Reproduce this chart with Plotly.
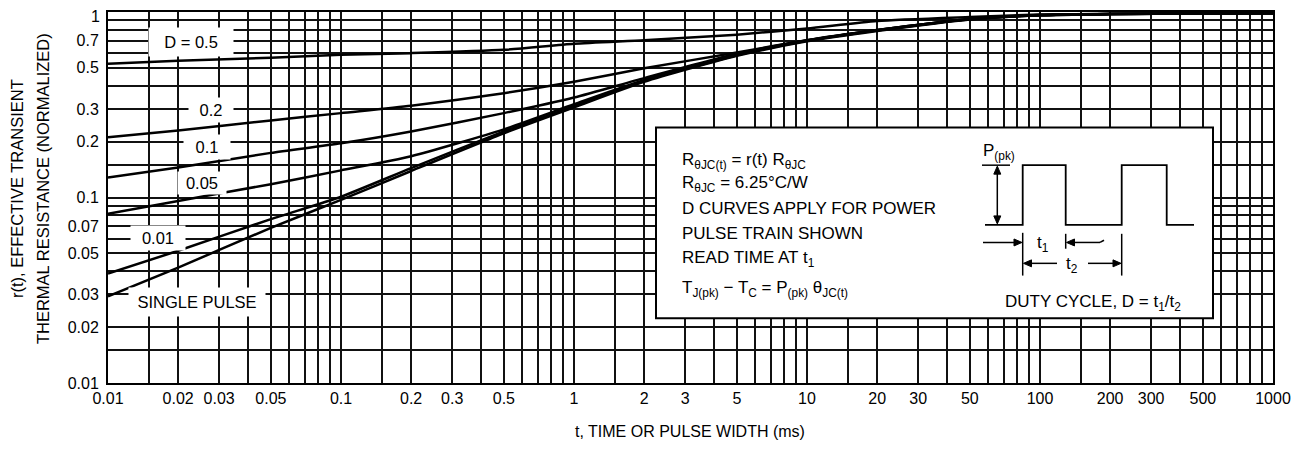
import numpy as np
import plotly.graph_objects as go

# ---------------- data ----------------
t_ms = [0.01, 0.02, 0.05, 0.1, 0.2, 0.5, 1, 2, 5, 10, 20, 50, 100, 200, 500, 1000]

r_d050 = [0.526, 0.546, 0.567, 0.588, 0.600, 0.625, 0.675, 0.705, 0.755, 0.815, 0.895, 0.940, 0.968, 0.977, 0.983, 0.987]
r_d020 = [0.211, 0.230, 0.260, 0.285, 0.312, 0.365, 0.421, 0.497, 0.605, 0.705, 0.800, 0.918, 0.962, 0.975, 0.982, 0.985]
r_d010 = [0.128, 0.145, 0.174, 0.196, 0.227, 0.285, 0.346, 0.440, 0.595, 0.705, 0.800, 0.918, 0.962, 0.975, 0.982, 0.985]
r_d005 = [0.0816, 0.0958, 0.118, 0.140, 0.167, 0.233, 0.318, 0.430, 0.590, 0.702, 0.797, 0.916, 0.961, 0.975, 0.982, 0.985]
r_d001 = [0.0389, 0.0516, 0.0765, 0.101, 0.144, 0.227, 0.311, 0.425, 0.585, 0.700, 0.795, 0.914, 0.960, 0.974, 0.982, 0.985]
r_single = [0.0293, 0.0419, 0.0686, 0.097, 0.139, 0.222, 0.306, 0.420, 0.580, 0.695, 0.790, 0.912, 0.960, 0.974, 0.982, 0.985]

series = [r_d050, r_d020, r_d010, r_d005, r_d001, r_single]

x_labels = [0.01, 0.02, 0.03, 0.05, 0.1, 0.2, 0.3, 0.5, 1, 2, 3, 5, 10, 20, 30, 50, 100, 200, 300, 500, 1000]
x_label_text = ["0.01", "0.02", "0.03", "0.05", "0.1", "0.2", "0.3", "0.5", "1", "2", "3", "5",
                "10", "20", "30", "50", "100", "200", "300", "500", "1000"]
y_labels = [0.01, 0.02, 0.03, 0.05, 0.07, 0.1, 0.2, 0.3, 0.5, 0.7, 1]
y_label_text = ["0.01", "0.02", "0.03", "0.05", "0.07", "0.1", "0.2", "0.3", "0.5", "0.7", "1"]
grid_mult = [1, 1.5, 2, 3, 4, 5, 6, 7, 8, 9]

curve_labels = ["D = 0.5", "0.2", "0.1", "0.05", "0.01", "SINGLE PULSE"]

# ---------------- layout geometry ----------------
# page body has an 8 px margin: the figure is sized/offset to compensate
OFF = 8
W, H = 1306 - 2 * OFF, 449 - 2 * OFF
L, R, T, B = 108, 1273, 10, 383          # plot area in page pixels
FONT = "Liberation Sans, Arial, Helvetica, sans-serif"


def P(px, py):
    return (px - L) / (R - L), (B - py) / (B - T)


x_grid = [d * m for d in [0.01, 0.1, 1, 10, 100] for m in grid_mult] + [1000]
x_minor = [v for v in x_grid if not any(abs(np.log10(v) - np.log10(l)) < 1e-6 for l in x_labels)]
y_grid = [d * m for d in [0.01, 0.1] for m in grid_mult] + [1]
y_minor = [v for v in y_grid if not any(abs(np.log10(v) - np.log10(l)) < 1e-6 for l in y_labels)]

# the top label "1" would be clipped at the page edge: draw it as an annotation instead
y_tick_vals = y_labels[:-1]
y_tick_text = y_label_text[:-1]

fig = go.Figure()
for s in series:
    fig.add_trace(go.Scatter(x=t_ms, y=s, mode="lines",
                             line=dict(color="black", width=2.5, shape="spline", smoothing=0.6),
                             showlegend=False, hoverinfo="skip"))

grid_col = "#111111"
fig.update_xaxes(type="log", range=[-2, 3], tickvals=x_labels, ticktext=x_label_text,
                 showgrid=True, gridcolor=grid_col, gridwidth=1.7,
                 minor=dict(tickvals=x_minor, showgrid=True, gridcolor=grid_col, gridwidth=1.7, ticks=""),
                 showline=True, linecolor="black", linewidth=2, mirror=True,
                 ticks="", ticklabelstandoff=0, zeroline=False,
                 tickfont=dict(family=FONT, size=16, color="black"))
fig.update_yaxes(type="log", range=[-2, 0], tickvals=y_tick_vals, ticktext=y_tick_text,
                 showgrid=True, gridcolor=grid_col, gridwidth=1.7,
                 minor=dict(tickvals=y_minor + [1], showgrid=True, gridcolor=grid_col, gridwidth=1.7, ticks=""),
                 showline=True, linecolor="black", linewidth=2, mirror=True,
                 ticks="", ticklabelstandoff=4, zeroline=False,
                 tickfont=dict(family=FONT, size=16, color="black"))

ann = []
shapes = []

ann.append(dict(x=0, y=P(0, 15)[1], xref="paper", yref="paper", xshift=-6, text=y_label_text[-1],
                showarrow=False, font=dict(family=FONT, size=16, color="black"),
                xanchor="right", yanchor="middle"))

# curve labels with white boxes (pixel centre, box width, box height)
label_pos = [(191, 40, 84, 28), (211, 109, 44, 24), (207, 146, 46, 24),
             (202, 182, 48, 22), (158, 237, 54, 24), (197, 302, 136, 28)]
for txt, (cx, cy, bw, bh) in zip(curve_labels, label_pos):
    x0, y0 = P(cx, cy)
    ann.append(dict(x=x0, y=y0, xref="paper", yref="paper", text=txt, showarrow=False,
                    bgcolor="white", width=bw, height=bh, borderpad=0,
                    font=dict(family=FONT, size=16.5, color="black"),
                    xanchor="center", yanchor="middle"))

# inset box
bx0, by0 = P(656, 318)
bx1, by1 = P(1213, 126)
shapes.append(dict(type="rect", xref="paper", yref="paper", x0=bx0, y0=by0, x1=bx1, y1=by1,
                   fillcolor="white", line=dict(color="black", width=2), layer="above"))

inset_lines = [
    ("R<sub>θJC(t)</sub> = r(t) R<sub>θJC</sub>", 160),
    ("R<sub>θJC</sub> = 6.25°C/W", 183),
    ("D CURVES APPLY FOR POWER", 208),
    ("PULSE TRAIN SHOWN", 233),
    ("READ TIME AT t<sub>1</sub>", 258),
    ("T<sub>J(pk)</sub> − T<sub>C</sub> = P<sub>(pk)</sub> θ<sub>JC(t)</sub>", 288),
]
for txt, py in inset_lines:
    x0, y0 = P(680, py)
    ann.append(dict(x=x0, y=y0, xref="paper", yref="paper", text=txt, showarrow=False,
                    font=dict(family=FONT, size=17, color="black"), xanchor="left", yanchor="middle"))

# pulse train drawing
pulse_px = [(985, 224), (1022.7, 224), (1022.7, 164), (1065.7, 164), (1065.7, 224), (1121.7, 224),
            (1121.7, 164), (1166.7, 164), (1166.7, 224), (1194, 224)]
path = ""
for i, (px, py) in enumerate(pulse_px):
    xx, yy = P(px, py)
    path += ("M" if i == 0 else "L") + f"{xx:.5f},{yy:.5f} "
shapes.append(dict(type="path", xref="paper", yref="paper", path=path,
                   line=dict(color="black", width=1.8), layer="above"))


def seg(p0, p1, w=1.5):
    a = P(*p0)
    b = P(*p1)
    shapes.append(dict(type="line", xref="paper", yref="paper", x0=a[0], y0=a[1], x1=b[0], y1=b[1],
                       line=dict(color="black", width=w), layer="above"))


def head(tip, direction, ln=8, hw=3.5):
    tx, ty = tip
    dx, dy = direction
    bxp, byp = tx - dx * ln, ty - dy * ln
    px_, py_ = -dy, dx
    pts = [(tx, ty), (bxp + px_ * hw, byp + py_ * hw), (bxp - px_ * hw, byp - py_ * hw)]
    pth = ""
    for i, (a, b) in enumerate(pts):
        xx, yy = P(a, b)
        pth += ("M" if i == 0 else "L") + f"{xx:.5f},{yy:.5f} "
    pth += "Z"
    shapes.append(dict(type="path", xref="paper", yref="paper", path=pth, fillcolor="black",
                       line=dict(color="black", width=1), layer="above"))


seg((982, 164), (1010, 164))          # top tick for P(pk)
seg((997.3, 166), (997.3, 222))       # vertical arrow shaft
head((997.3, 165), (0, -1))
head((997.3, 223), (0, 1))
seg((1022.7, 232), (1022.7, 275))     # guide at t1 start
seg((1065.7, 233), (1065.7, 248))     # guide at t1 end
seg((1121.7, 233), (1121.7, 275))     # guide at t2 end
seg((983, 241.7), (1016, 241.7))      # t1 left arrow
head((1022, 241.7), (1, 0))
seg((1072, 241.7), (1100, 241.7))     # t1 right arrow
seg((1100, 241.7), (1104, 239.5))
head((1066.5, 241.7), (-1, 0))
seg((1030, 262.7), (1057, 262.7))     # t2 left arrow
head((1023.5, 262.7), (-1, 0))
seg((1088, 262.7), (1115, 262.7))     # t2 right arrow
head((1121, 262.7), (1, 0))

small_txt = [
    ("P<sub>(pk)</sub>", 999, 151, "center"),
    ("t<sub>1</sub>", 1043, 243, "center"),
    ("t<sub>2</sub>", 1072, 264, "center"),
    ("DUTY CYCLE, D = t<sub>1</sub>/t<sub>2</sub>", 1003, 303, "left"),
]
for txt, px, py, anc in small_txt:
    x0, y0 = P(px, py)
    ann.append(dict(x=x0, y=y0, xref="paper", yref="paper", text=txt, showarrow=False,
                    font=dict(family=FONT, size=17, color="black"), xanchor=anc, yanchor="middle"))

# axis titles
ann.append(dict(x=0, y=P(0, 188)[1], xref="paper", yref="paper", xshift=17 - L,
                text="r(t), EFFECTIVE TRANSIENT", textangle=-90, showarrow=False,
                font=dict(family=FONT, size=16.5, color="black"), xanchor="center", yanchor="middle"))
ann.append(dict(x=0, y=P(0, 188)[1], xref="paper", yref="paper", xshift=43 - L,
                text="THERMAL RESISTANCE (NORMALIZED)", textangle=-90, showarrow=False,
                font=dict(family=FONT, size=16.5, color="black"), xanchor="center", yanchor="middle"))
ann.append(dict(x=P(690, 0)[0], y=0, xref="paper", yref="paper", yshift=-(431 - B),
                text="t, TIME OR PULSE WIDTH (ms)", showarrow=False,
                font=dict(family=FONT, size=16, color="black"), xanchor="center", yanchor="middle"))

fig.update_layout(width=W, height=H,
                  margin=dict(l=L - OFF, r=W - (R - OFF), t=T - OFF, b=H - (B - OFF), pad=0),
                  paper_bgcolor="white", plot_bgcolor="white",
                  annotations=ann, shapes=shapes, showlegend=False,
                  font=dict(family=FONT, color="black"))

fig.write_html("out.html")
